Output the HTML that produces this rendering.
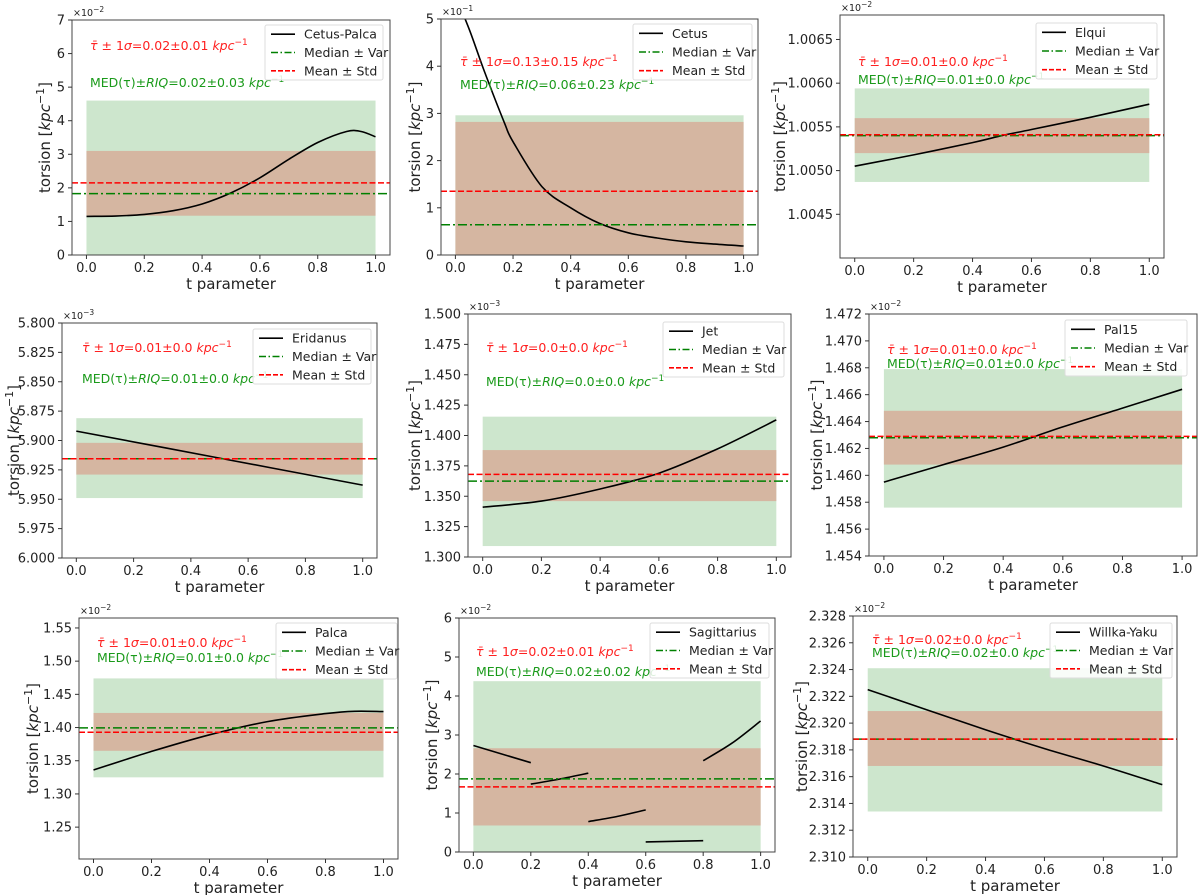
<!DOCTYPE html>
<html><head><meta charset="utf-8">
<style>
html,body{margin:0;padding:0;background:#fff;}
svg{display:block;font-family:"DejaVu Sans","Liberation Sans",sans-serif;}
</style></head>
<body>
<svg id="fig" width="1200" height="895" viewBox="0 0 1200 895" xmlns="http://www.w3.org/2000/svg"></svg>
<script>
// ---- data ----
const tickX = [0, 0.2, 0.4, 0.6, 0.8, 1.0];

const cetusPalcaT = [0, 0.1, 0.2, 0.3, 0.4, 0.5, 0.6, 0.7, 0.8, 0.9, 0.95, 1.0];
const cetusPalcaY = [1.15, 1.16, 1.21, 1.32, 1.52, 1.85, 2.3, 2.85, 3.35, 3.68, 3.68, 3.52];
const cetusPalcaStats = [2.15, 1.17, 3.1, 1.83, 0, 4.6]; // mean, std lo, std hi, median, var lo, var hi
const cetusPalcaTicks = [0, 1, 2, 3, 4, 5, 6, 7];

const cetusT = [0, 0.05, 0.1, 0.17, 0.2, 0.3, 0.4, 0.5, 0.6, 0.7, 0.8, 0.9, 1.0];
const cetusY = [5.5, 4.75, 3.9, 2.8, 2.4, 1.45, 1.0, 0.67, 0.47, 0.36, 0.28, 0.23, 0.19];
const cetusStats = [1.35, 0, 2.82, 0.64, 0, 2.96];
const cetusTicks = [0, 1, 2, 3, 4, 5];

const elquiT = [0, 0.2, 0.4, 0.5, 0.6, 0.8, 1.0];
const elquiY = [1.00505, 1.00518, 1.00532, 1.00540, 1.00547, 1.00561, 1.00576];
const elquiStats = [1.00541, 1.00520, 1.00560, 1.00540, 1.00487, 1.00594];
const elquiTicks = [1.0045, 1.0050, 1.0055, 1.0060, 1.0065];

const eridanusT = [0, 0.5, 1.0];
const eridanusY = [5.892, 5.915, 5.938];
const eridanusStats = [5.9155, 5.902, 5.929, 5.9155, 5.881, 5.949];
const eridanusTicks = [5.800, 5.825, 5.850, 5.875, 5.900, 5.925, 5.950, 5.975, 6.000];

const jetT = [0, 0.2, 0.4, 0.6, 0.8, 1.0];
const jetY = [1.341, 1.346, 1.356, 1.369, 1.389, 1.4128];
const jetStats = [1.368, 1.346, 1.388, 1.3625, 1.309, 1.4155];
const jetTicks = [1.300, 1.325, 1.350, 1.375, 1.400, 1.425, 1.450, 1.475, 1.500];

const pal15T = [0, 0.2, 0.4, 0.6, 0.8, 1.0];
const pal15Y = [1.4595, 1.4608, 1.4621, 1.4636, 1.4650, 1.4664];
const pal15Stats = [1.4629, 1.4608, 1.4648, 1.4628, 1.4576, 1.4679];
const pal15Ticks = [1.454, 1.456, 1.458, 1.460, 1.462, 1.464, 1.466, 1.468, 1.470, 1.472];

const palcaT = [0, 0.2, 0.4, 0.6, 0.8, 0.9, 1.0];
const palcaY = [1.336, 1.364, 1.389, 1.409, 1.421, 1.4245, 1.424];
const palcaStats = [1.393, 1.365, 1.422, 1.3995, 1.325, 1.474];
const palcaTicks = [1.25, 1.30, 1.35, 1.40, 1.45, 1.50, 1.55];

const sagSeg1T = [0, 0.2];        const sagSeg1Y = [2.73, 2.29];
const sagSeg2T = [0.2, 0.3, 0.4]; const sagSeg2Y = [1.74, 1.87, 2.02];
const sagSeg3T = [0.4, 0.5, 0.6]; const sagSeg3Y = [0.78, 0.91, 1.08];
const sagSeg4T = [0.6, 0.8];      const sagSeg4Y = [0.26, 0.29];
const sagSeg5T = [0.8, 0.9, 1.0]; const sagSeg5Y = [2.34, 2.79, 3.36];
const sagStats = [1.67, 0.68, 2.66, 1.875, 0, 4.38];
const sagTicks = [0, 1, 2, 3, 4, 5, 6];

const willkaT = [0, 0.2, 0.4, 0.6, 0.8, 1.0];
const willkaY = [2.3225, 2.3210, 2.3195, 2.3181, 2.3168, 2.3154];
const willkaStats = [2.3188, 2.3168, 2.3209, 2.3188, 2.3134, 2.3241];
const willkaTicks = [2.310, 2.312, 2.314, 2.316, 2.318, 2.320, 2.322, 2.324, 2.326, 2.328];

// ---- layout (pixels) ----
const panels = [
 {name:'cetus-palca', label:'Cetus-Palca', box:[72,20,390,255], ydom:[0,7], ticks:cetusPalcaTicks, dec:0, mult:'-2',
  segs:[[cetusPalcaT,cetusPalcaY]], st:cetusPalcaStats, leg:[265,25,383,80], ann:[90,50,90,87], ylab:45,
  red:'0.02±0.01', green:'0.02±0.03'},
 {name:'cetus', label:'Cetus', box:[441,19,758,255], ydom:[0,5], ticks:cetusTicks, dec:0, mult:'-1',
  segs:[[cetusT,cetusY]], st:cetusStats, leg:[633,24,752,80], ann:[460,66,460,89], ylab:415,
  red:'0.13±0.15', green:'0.06±0.23'},
 {name:'elqui', label:'Elqui', box:[840,15,1164,258], ydom:[1.00400,1.00678], ticks:elquiTicks, dec:4, mult:'-2',
  segs:[[elquiT,elquiY]], st:elquiStats, leg:[1036,23,1157,79], ann:[858,66,858,84], ylab:780,
  red:'0.01±0.0', green:'0.01±0.0'},
 {name:'eridanus', label:'Eridanus', box:[62,323,377,558], ydom:[5.800,6.000], inv:true, ticks:eridanusTicks, dec:3, mult:'-3',
  segs:[[eridanusT,eridanusY]], st:eridanusStats, leg:[253,329,371,384], ann:[82,352,82,383], ylab:14,
  red:'0.01±0.0', green:'0.01±0.0'},
 {name:'jet', label:'Jet', box:[468,314,791,557], ydom:[1.300,1.500], ticks:jetTicks, dec:3, mult:'-3',
  segs:[[jetT,jetY]], st:jetStats, leg:[663,322,784,377], ann:[486,352,486,386], ylab:415,
  red:'0.0±0.0', green:'0.0±0.0'},
 {name:'pal15', label:'Pal15', box:[869,314,1197,556], ydom:[1.454,1.472], ticks:pal15Ticks, dec:3, mult:'-2',
  segs:[[pal15T,pal15Y]], st:pal15Stats, leg:[1065,320,1187,376], ann:[887,354,887,368], ylab:817,
  red:'0.01±0.0', green:'0.01±0.0'},
 {name:'palca', label:'Palca', box:[79,618,398,859], ydom:[1.202,1.565], ticks:palcaTicks, dec:2, mult:'-2',
  segs:[[palcaT,palcaY]], st:palcaStats, leg:[276,623,397,679], ann:[97,647,97,662], ylab:33,
  red:'0.01±0.0', green:'0.01±0.0'},
 {name:'sagittarius', label:'Sagittarius', box:[459,618,775,852], ydom:[0,6], ticks:sagTicks, dec:0, mult:'-2',
  segs:[[sagSeg1T,sagSeg1Y],[sagSeg2T,sagSeg2Y],[sagSeg3T,sagSeg3Y],[sagSeg4T,sagSeg4Y],[sagSeg5T,sagSeg5Y]],
  st:sagStats, leg:[650,623,769,678], ann:[476,656,476,676], ylab:432,
  red:'0.02±0.01', green:'0.02±0.02'},
 {name:'willka-yaku', label:'Willka-Yaku', box:[853,616,1177,857], ydom:[2.310,2.328], ticks:willkaTicks, dec:3, mult:'-2',
  segs:[[willkaT,willkaY]], st:willkaStats, leg:[1050,623,1172,678], ann:[872,644,872,657], ylab:802,
  red:'0.02±0.0', green:'0.02±0.0'}
];

const NS = 'http://www.w3.org/2000/svg';
const fig = document.getElementById('fig');
function mk(tag, attrs, parent, text){
  const e = document.createElementNS(NS, tag);
  for (const k in attrs) e.setAttribute(k, attrs[k]);
  if (text !== undefined) e.textContent = text;
  (parent||fig).appendChild(e);
  return e;
}
function smoothPath(pts){
  if (pts.length < 3) return 'M' + pts.map(p=>p[0].toFixed(1)+','+p[1].toFixed(1)).join(' L');
  let d = 'M' + pts[0][0].toFixed(1) + ',' + pts[0][1].toFixed(1);
  for (let i=0;i<pts.length-1;i++){
    const p0 = pts[Math.max(i-1,0)], p1 = pts[i], p2 = pts[i+1], p3 = pts[Math.min(i+2,pts.length-1)];
    const c1 = [p1[0]+(p2[0]-p0[0])/6, p1[1]+(p2[1]-p0[1])/6];
    const c2 = [p2[0]-(p3[0]-p1[0])/6, p2[1]-(p3[1]-p1[1])/6];
    d += ' C'+c1[0].toFixed(1)+','+c1[1].toFixed(1)+' '+c2[0].toFixed(1)+','+c2[1].toFixed(1)+' '+p2[0].toFixed(1)+','+p2[1].toFixed(1);
  }
  return d;
}

panels.forEach(p => {
  const [L,T,R,B] = p.box;
  const g = mk('g', {});
  
  
  const xs = v => L + (v + 0.05) / 1.1 * (R - L);
  const ys = v => {
    let f = (v - p.ydom[0]) / (p.ydom[1] - p.ydom[0]);
    if (p.inv) f = 1 - f;
    return B - f * (B - T);
  };
  const clipId = 'clip-' + p.name;
  const cp = mk('clipPath', {id: clipId}, g);
  mk('rect', {x:L, y:T, width:R-L, height:B-T}, cp);
  const plot = mk('g', {'clip-path':'url(#'+clipId+')'}, g);
  const [mean, sLo, sHi, med, vLo, vHi] = p.st;
  let r = mk('rect', {x:xs(0), y:Math.min(ys(vLo),ys(vHi)), width:xs(1)-xs(0), height:Math.abs(ys(vHi)-ys(vLo)), fill:'#cde6cd'}, plot);
  
  
  r = mk('rect', {x:xs(0), y:Math.min(ys(sLo),ys(sHi)), width:xs(1)-xs(0), height:Math.abs(ys(sHi)-ys(sLo)), fill:'#d5b6a1'}, plot);
  
  
  p.segs.forEach((s, i) => {
    const pts = s[0].map((t, j) => [xs(t), ys(s[1][j])]);
    const path = mk('path', {d: smoothPath(pts), fill:'none', stroke:'#000', 'stroke-width':1.6}, plot);
    
    
  });
  let ln = mk('line', {x1:L, x2:R, y1:ys(med), y2:ys(med), stroke:'#008000', 'stroke-width':1.5, 'stroke-dasharray':'9,3,2,3'}, plot);
  
  
  ln = mk('line', {x1:L, x2:R, y1:ys(mean), y2:ys(mean), stroke:'#ff0000', 'stroke-width':1.5, 'stroke-dasharray':'6,2.5'}, plot);
  
  
  mk('rect', {x:L, y:T, width:R-L, height:B-T, fill:'none', stroke:'#444', 'stroke-width':1}, g);
  tickX.forEach(v => {
    const x = xs(v);
    mk('line', {x1:x, x2:x, y1:B, y2:B+4, stroke:'#333'}, g);
    const t = mk('text', {x:x, y:B+17, 'font-size':13, 'text-anchor':'middle', fill:'#222'}, g, v.toFixed(1));
    
    
  });
  p.ticks.forEach(v => {
    const y = ys(v);
    mk('line', {x1:L-4, x2:L, y1:y, y2:y, stroke:'#333'}, g);
    const t = mk('text', {x:L-7, y:y+4.5, 'font-size':13, 'text-anchor':'end', fill:'#222'}, g, v.toFixed(p.dec));
    
    
  });
  const m = mk('text', {x:L+1, y:T-4, 'font-size':9.5, fill:'#222'}, g, '×10');
  
  
  mk('tspan', {dy:-4, 'font-size':7.5}, m, '−' + p.mult.slice(1));
  const xt = mk('text', {x:(L+R)/2, y:B+34, 'font-size':15, 'text-anchor':'middle', fill:'#222'}, g, 't parameter');
  
  
  const cy = (T+B)/2;
  const yt = mk('text', {x:p.ylab, y:cy, 'font-size':15, 'text-anchor':'middle', fill:'#222', transform:'rotate(-90 '+p.ylab+' '+cy+')', dy:5}, g, 'torsion [');
  
  
  mk('tspan', {'font-style':'italic'}, yt, 'kpc');
  mk('tspan', {dy:-6, 'font-size':11}, yt, '−1');
  mk('tspan', {dy:6}, yt, ']');
  const [ax1, ay1, ax2, ay2] = p.ann;
  const a1 = mk('text', {x:ax1, y:ay1, 'font-size':12.5, fill:'#ff2020'}, g);
  
  
  mk('tspan', {'font-style':'italic'}, a1, 'τ̄');
  mk('tspan', {}, a1, ' ± 1');
  mk('tspan', {'font-style':'italic'}, a1, 'σ');
  mk('tspan', {}, a1, '=' + p.red + ' ');
  mk('tspan', {'font-style':'italic'}, a1, 'kpc');
  mk('tspan', {dy:-5, 'font-size':9}, a1, '−1');
  const a2 = mk('text', {x:ax2, y:ay2, 'font-size':12.5, fill:'#1a9a1a'}, g);
  
  
  mk('tspan', {}, a2, 'MED(τ)±');
  mk('tspan', {'font-style':'italic'}, a2, 'RIQ');
  mk('tspan', {}, a2, '=' + p.green + ' ');
  mk('tspan', {'font-style':'italic'}, a2, 'kpc');
  mk('tspan', {dy:-5, 'font-size':9}, a2, '−1');
  const [lx1, ly1, lx2, ly2] = p.leg;
  const lg = mk('g', {}, g);
  
  
  mk('rect', {x:lx1, y:ly1, width:lx2-lx1, height:ly2-ly1, fill:'#fff', 'fill-opacity':0.85, stroke:'#ddd', rx:2}, lg);
  const rowH = (ly2 - ly1) / 3;
  const entries = [[p.label, '#000', ''], ['Median ± Var', '#008000', '7,2.5,1.5,2.5'], ['Mean ± Std', '#ff0000', '5,2']];
  entries.forEach((en, i) => {
    const y = ly1 + rowH * (i + 0.5);
    const e = mk('g', {}, lg);
    
    
    mk('line', {x1:lx1+6, x2:lx1+30, y1:y, y2:y, stroke:en[1], 'stroke-width':1.6, 'stroke-dasharray':en[2] || 'none'}, e);
    mk('text', {x:lx1+39, y:y+4.5, 'font-size':12.5, fill:'#222'}, e, en[0]);
  });
});
</script>
</body></html>
